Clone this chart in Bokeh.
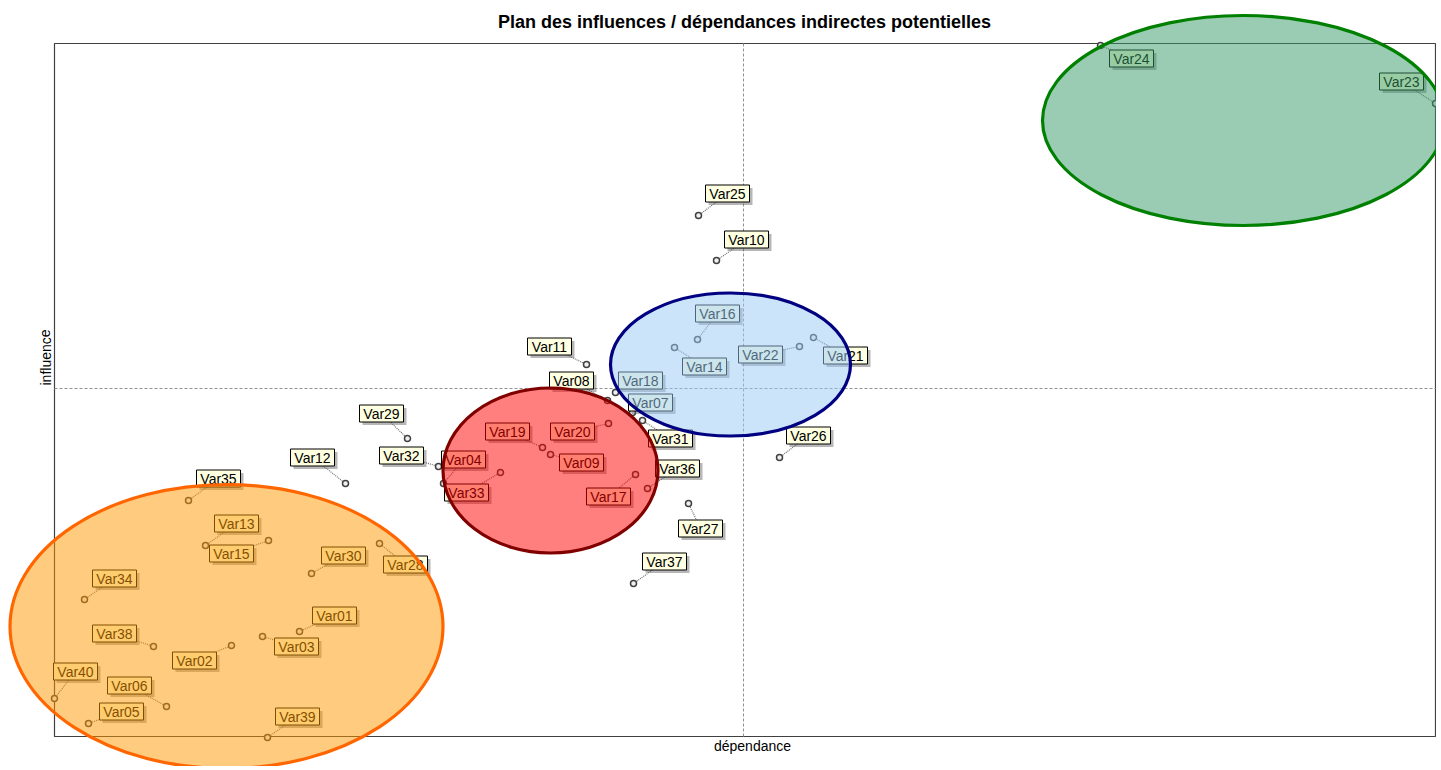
import math
from bokeh.plotting import figure
from bokeh.models import Range1d, ColumnDataSource
from bokeh.core.properties import value
from bokeh.embed import file_html
from bokeh.resources import INLINE

# --- data -------------------------------------------------------------
names = ["Var01", "Var02", "Var03", "Var04", "Var05", "Var06", "Var07", "Var08", "Var09", "Var10",
         "Var11", "Var12", "Var13", "Var14", "Var15", "Var16", "Var17", "Var18", "Var19", "Var20",
         "Var21", "Var22", "Var23", "Var24", "Var25", "Var26", "Var27", "Var28", "Var29", "Var30",
         "Var31", "Var32", "Var33", "Var34", "Var35", "Var36", "Var37", "Var38", "Var39", "Var40"]
dependance = [245, 177, 208, 389, 34, 112, 578, 553, 496, 662,
              532, 291, 151, 620, 214, 643, 581, 561, 488, 554,
              759, 745, 1381, 1046, 644, 725, 634, 325, 353, 257,
              588, 384, 446, 30, 134, 593, 579, 99, 213, 0]
influence = [105, 91, 100, 253, 13, 30, 324, 336, 282, 476,
             372, 253, 191, 389, 196, 397, 262, 344, 289, 313,
             399, 390, 633, 691, 521, 279, 233, 193, 298, 163,
             316, 270, 264, 137, 236, 248, 153, 90, -1, 38]
# label offsets (layout of the name tags)
label_dx = [35, -37, 34, 20, 33, -37, 18, -36, 31, 30,
            -37, -33, 31, 30, -37, 20, -27, 25, -35, -36,
            32, -39, -34, 31, 29, 29, 12, 26, -26, 32,
            28, -37, -34, 30, 30, 30, 31, -39, 30, 21]
label_dy = [16, -15, -10, 24, 12, 21, 10, 20, -8, 21,
            18, 26, 22, -19, -13, 26, -22, 12, 16, -8,
            -18, -8, 22, -13, 22, 22, -25, -21, 25, 18,
            -18, 11, -20, 21, 22, 20, 22, 13, 21, 27]

# clusters (ellipses)
cl_x = [1189, 676, 496, 172]
cl_y = [616, 372, 266, 110]
cl_w = [402, 240, 215, 433]
cl_h = [210, 143, 165, 284]
cl_fill = ["#339965", "#99c9f5", "#ff0000", "#ff9900"]
cl_alpha = [0.5, 0.5, 0.5, 0.5]
cl_line = ["#008000", "#000080", "#800000", "#ff6600"]

x_max, y_max = 1381, 693
x_mid, y_mid = 689, 348

# --- figure -----------------------------------------------------------
p = figure(width=1436, height=766, output_backend="svg", toolbar_location=None,
           x_range=Range1d(-54, 1382), y_range=Range1d(-30, 736),
           x_axis_location=None, y_axis_location=None, min_border=0,
           title=None)
p.grid.visible = False
p.outline_line_color = None
p.background_fill_color = "white"
p.border_fill_color = "white"

# frame
p.quad(left=[0], right=[x_max], bottom=[0], top=[y_max], fill_color=None,
       line_color="#404040", line_width=1.2)
# median lines
p.segment(x0=[x_mid, 0], y0=[0, y_mid], x1=[x_mid, x_max], y1=[y_max, y_mid],
          line_color="#909090", line_dash="3 2", line_width=1)

lx = [d + o for d, o in zip(dependance, label_dx)]
ly = [i + o for i, o in zip(influence, label_dy)]
src = ColumnDataSource(dict(x=dependance, y=influence, lx=lx, ly=ly, name=names,
                            sx=[v + 3 for v in lx], sy=[v - 3 for v in ly]))

# leaders
p.segment(x0="x", y0="y", x1="lx", y1="ly", source=src, line_color="#707070",
          line_dash="1 1", line_width=1.2)
# points
p.scatter(x="x", y="y", source=src, marker="circle", size=6, fill_color="#f0f0f0",
          line_color="#404040", line_width=1.5)
# labels
p.rect(x="sx", y="sy", width=44, height=17, source=src, fill_color="#606060",
       fill_alpha=0.45, line_color=None)
p.rect(x="lx", y="ly", width=44, height=17, source=src, fill_color="#ffffe1",
       line_color="#000000", line_width=1)
p.text(x="lx", y="ly", text="name", source=src, text_align="center",
       text_baseline="middle", text_font=value("Liberation Sans"),
       text_font_size="14px", text_color="#000000")

# cluster ellipses
p.ellipse(x=cl_x, y=cl_y, width=cl_w, height=cl_h, fill_color=cl_fill,
          fill_alpha=cl_alpha, line_color=cl_line, line_width=3.2)

# titles
p.text(x=[690], y=[715], text=["Plan des influences / dépendances indirectes potentielles"],
       text_align="center", text_baseline="middle", text_font=value("Liberation Sans"),
       text_font_size="18px", text_font_style="bold", text_color="#000000")
p.text(x=[698], y=[-9], text=["dépendance"], text_align="center", text_baseline="middle",
       text_font=value("Liberation Sans"), text_font_size="14px", text_color="#000000")
p.text(x=[-9], y=[379], text=["influence"], angle=[math.pi / 2], text_align="center",
       text_baseline="middle", text_font=value("Liberation Sans"), text_font_size="14px",
       text_color="#000000")

open("out.html", "w").write(file_html(p, INLINE))
